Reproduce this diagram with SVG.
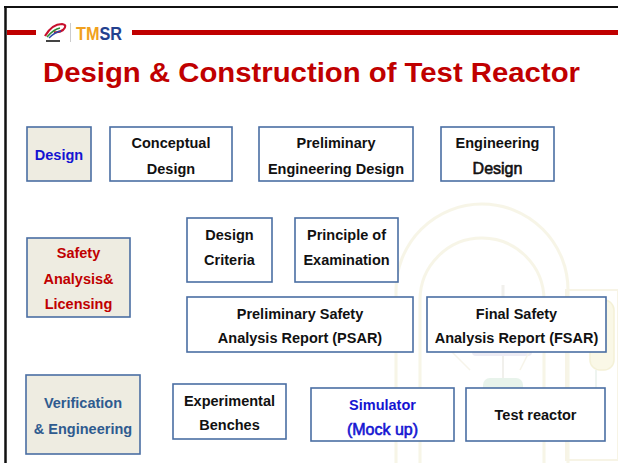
<svg xmlns="http://www.w3.org/2000/svg" width="618" height="463" viewBox="0 0 618 463">
  <style>
    .box { fill: #ffffff; stroke: #4a6ea3; stroke-width: 1.6; }
    .cat { fill: #eeece1; stroke: #4a6ea3; stroke-width: 1.6; }
    .lbl { font-family: "Liberation Sans", Arial, sans-serif; font-weight: bold; font-size: 14.5px; fill: #111111; text-anchor: middle; }
    .plain { font-weight: normal; font-size: 16px; stroke-width: 0.6; }
    .logo { font-family: "Liberation Sans", Arial, sans-serif; font-weight: bold; font-size: 19px; }
    .wm { fill: none; stroke: #ece7c4; stroke-width: 3; }
  </style>
  <defs>
    <!-- two-tone fill for the TMSR wordmark: orange "TM", blue "SR" -->
    <linearGradient id="tmsr" gradientUnits="userSpaceOnUse" x1="76" y1="0" x2="122" y2="0">
      <stop offset="0" stop-color="#f0a01e"/>
      <stop offset="0.49" stop-color="#f0a01e"/>
      <stop offset="0.49" stop-color="#23408e"/>
      <stop offset="1" stop-color="#23408e"/>
    </linearGradient>
  </defs>

  <rect x="0" y="0" width="618" height="463" fill="#ffffff"/>

  <!-- faint reactor illustration in the background -->
  <g id="backdrop" opacity="0.4">
    <path class="wm" d="M396 470 V290 A86 86 0 0 1 568 290 V470"/>
    <path class="wm" d="M420 470 V300 A62 62 0 0 1 544 300 V470" stroke-width="2"/>
    <rect x="566" y="290" width="52" height="170" fill="none" stroke="#ece6c2" stroke-width="2"/>
    <rect x="590" y="300" width="24" height="70" rx="10" fill="#f3eec4" stroke="#e6dd9c" stroke-width="1.5"/>
    <rect x="472" y="322" width="60" height="34" rx="4" fill="#d4d1e4"/>
    <line x1="503" y1="285" x2="503" y2="322" stroke="#dedbd0" stroke-width="3"/>
    <line x1="503" y1="356" x2="503" y2="378" stroke="#dedbd0" stroke-width="2"/>
    <rect x="483" y="378" width="40" height="36" rx="7" fill="#c6e2cf"/>
    <rect x="416" y="395" width="26" height="16" rx="6" fill="#ead3de"/>
    <path d="M596 370 V420 Q596 440 575 440" fill="none" stroke="#d5e4dc" stroke-width="2"/>
    <circle cx="596" cy="400" r="4" fill="#cfe0d6"/>
    <line x1="430" y1="330" x2="470" y2="370" stroke="#ece6cc" stroke-width="1.5"/>
    <line x1="540" y1="330" x2="520" y2="370" stroke="#ece6cc" stroke-width="1.5"/>
  </g>

  <!-- slide frame -->
  <g id="frame">
    <line x1="4" y1="7" x2="618" y2="7" stroke="#111111" stroke-width="2"/>
    <line x1="5.5" y1="6" x2="5.5" y2="463" stroke="#111111" stroke-width="2.5"/>
  </g>

  <!-- header bar with logos -->
  <g id="header">
    <rect x="7" y="30" width="29" height="5" fill="#c00000"/>
    <rect x="132" y="30" width="486" height="5" fill="#c00000"/>
    <g id="logo-emblem">
      <path d="M45 36 Q52 24 62 24 Q68 25 63 30 Q59 33 54 32" fill="none" stroke="#c8102e" stroke-width="2.2"/>
      <path d="M47 37 Q54 29 60 28" fill="none" stroke="#2e8b3a" stroke-width="1.6"/>
      <path d="M49 38 Q55 32 61 31" fill="none" stroke="#2a4aa8" stroke-width="1.4"/>
      <rect x="46" y="40" width="14" height="2" fill="#444444"/>
    </g>
    <line x1="70.5" y1="23" x2="70.5" y2="42" stroke="#cccccc" stroke-width="1"/>
    <text class="logo" x="76" y="40" fill="url(#tmsr)" textLength="46" lengthAdjust="spacingAndGlyphs">TMSR</text>
  </g>

  <!-- title -->
  <text id="title" x="43" y="82" font-family="'Liberation Sans', Arial, sans-serif" font-weight="bold" font-size="27" fill="#c00000" textLength="537" lengthAdjust="spacingAndGlyphs">Design &amp; Construction of Test Reactor</text>

  <!-- row 1: design -->
  <g id="design">
    <rect class="cat" x="27" y="127" width="64" height="54"/>
    <text class="lbl" x="59" y="160" style="fill:#1414d2">Design</text>
  </g>
  <g id="conceptual-design">
    <rect class="box" x="110" y="127" width="122" height="54"/>
    <text class="lbl" x="171" y="148">Conceptual</text>
    <text class="lbl" x="171" y="174">Design</text>
  </g>
  <g id="preliminary-engineering-design">
    <rect class="box" x="259" y="127" width="154" height="54"/>
    <text class="lbl" x="336" y="148">Preliminary</text>
    <text class="lbl" x="336" y="174">Engineering Design</text>
  </g>
  <g id="engineering-design">
    <rect class="box" x="441" y="127" width="113" height="54"/>
    <text class="lbl" x="497.5" y="148">Engineering</text>
    <text class="lbl plain" x="497.5" y="174" style="stroke:#111111">Design</text>
  </g>

  <!-- row 2: safety analysis & licensing -->
  <g id="safety-licensing">
    <rect class="cat" x="27" y="238" width="103" height="79"/>
    <text class="lbl" x="78.5" y="258" style="fill:#c00000">Safety</text>
    <text class="lbl" x="78.5" y="284" style="fill:#c00000">Analysis&amp;</text>
    <text class="lbl" x="78.5" y="309" style="fill:#c00000">Licensing</text>
  </g>
  <g id="design-criteria">
    <rect class="box" x="187" y="218" width="85" height="64"/>
    <text class="lbl" x="229.5" y="240">Design</text>
    <text class="lbl" x="229.5" y="265">Criteria</text>
  </g>
  <g id="principle-of-examination">
    <rect class="box" x="295" y="218" width="103" height="64"/>
    <text class="lbl" x="346.5" y="240">Principle of</text>
    <text class="lbl" x="346.5" y="265">Examination</text>
  </g>
  <g id="psar">
    <rect class="box" x="187" y="297" width="226" height="55"/>
    <text class="lbl" x="300" y="319">Preliminary Safety</text>
    <text class="lbl" x="300" y="343">Analysis Report (PSAR)</text>
  </g>
  <g id="fsar">
    <rect class="box" x="427" y="297" width="179" height="55"/>
    <text class="lbl" x="516.5" y="319">Final Safety</text>
    <text class="lbl" x="516.5" y="343">Analysis Report (FSAR)</text>
  </g>

  <!-- row 3: verification & engineering -->
  <g id="verification-engineering">
    <rect class="cat" x="26" y="375" width="114" height="79"/>
    <text class="lbl" x="83" y="408" style="fill:#2f5b8f">Verification</text>
    <text class="lbl" x="83" y="434" style="fill:#2f5b8f">&amp; Engineering</text>
  </g>
  <g id="experimental-benches">
    <rect class="box" x="173" y="384" width="113" height="55"/>
    <text class="lbl" x="229.5" y="406">Experimental</text>
    <text class="lbl" x="229.5" y="430">Benches</text>
  </g>
  <g id="simulator">
    <rect class="box" x="311" y="388" width="143" height="53"/>
    <text class="lbl" x="382.5" y="410" style="fill:#1414d2">Simulator</text>
    <text class="lbl plain" x="382.5" y="435" style="fill:#1414d2;stroke:#1414d2">(Mock up)</text>
  </g>
  <g id="test-reactor">
    <rect class="box" x="466" y="388" width="139" height="53"/>
    <text class="lbl" x="535.5" y="420">Test reactor</text>
  </g>

  <!-- no connectors are drawn between the boxes -->
  <g id="connectors"/>
</svg>
